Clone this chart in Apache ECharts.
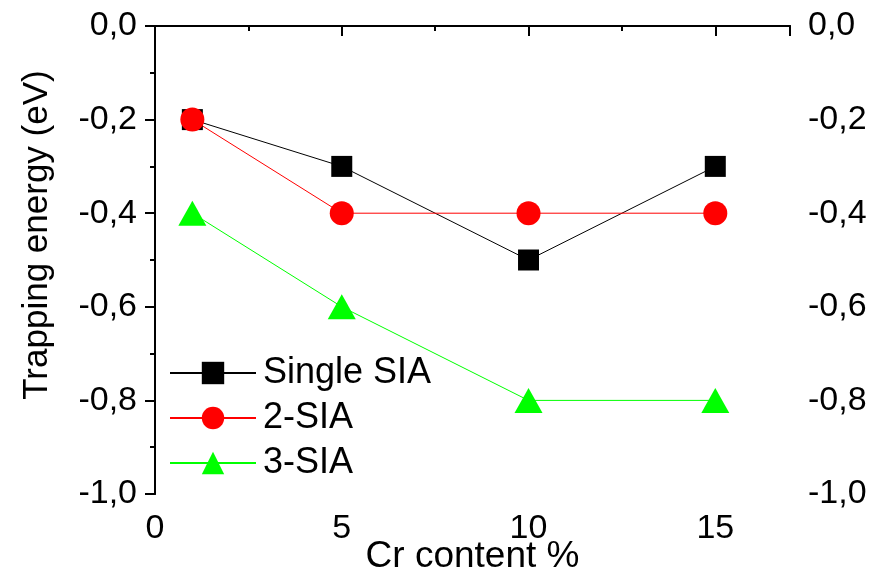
<!DOCTYPE html>
<html>
<head>
<meta charset="utf-8">
<script src="https://cdn.jsdelivr.net/npm/echarts@6/dist/echarts.min.js"></script>
<style>
  html, body { margin: 0; padding: 0; background: #fff; }
  #chart { width: 875px; height: 572px; }
</style>
</head>
<body>
<div id="chart"></div>
<script>
// Cr content (%) on the x axis
const crContent = [1, 5, 10, 15];
// Trapping energies (eV) per defect cluster
const singleSIA = [-0.2, -0.3, -0.5, -0.3];
const twoSIA = [-0.2, -0.4, -0.4, -0.4];
const threeSIA = [-0.4, -0.6, -0.8, -0.8];
const seriesNames = ['Single SIA', '2-SIA', '3-SIA'];

const FONT = '"Liberation Sans", Arial, sans-serif';

function pairs(xs, ys) {
  return xs.map((x, i) => [x, ys[i]]);
}
function commaFmt(v) {
  return v.toFixed(1).replace('.', ',');
}

const chart = echarts.init(document.getElementById('chart'), null, { renderer: 'canvas' });

const axisLine = { show: true, lineStyle: { color: '#000', width: 2 } };

chart.setOption({
  backgroundColor: '#fff',
  animation: false,
  grid: { left: 155, right: 85, top: 26, bottom: 78, containLabel: false, outerBoundsMode: 'none' },
  legend: {
    left: 169,
    top: 355,
    padding: 0,
    orient: 'vertical',
    itemWidth: 86,
    itemHeight: 28,
    itemGap: 9,
    textStyle: { fontFamily: FONT, fontSize: 36, color: '#000', padding: [0, 0, 0, 2] },
    data: seriesNames
  },
  xAxis: [
    {
      type: 'value', position: 'bottom', min: 0, max: 17, interval: 5,
      name: 'Cr content %', nameLocation: 'middle', nameGap: 44, nameMoveOverlap: false,
      nameTextStyle: { fontFamily: FONT, fontSize: 37, color: '#000' },
      axisLine: axisLine,
      axisTick: { show: true, inside: false, length: 10, lineStyle: { color: '#000', width: 2 } },
      minorTick: { show: true, splitNumber: 2, length: 5, lineStyle: { color: '#000', width: 2 } },
      axisLabel: {
        fontFamily: FONT, fontSize: 34, color: '#000', margin: 18, showMaxLabel: false,
        formatter: v => (v % 5 === 0 ? String(v) : '')
      },
      splitLine: { show: false }
    },
    {
      type: 'value', position: 'top', min: 0, max: 17, interval: 5,
      axisLine: axisLine,
      axisTick: { show: true, inside: true, length: 3, lineStyle: { color: '#000', width: 2 } },
      minorTick: { show: false },
      axisLabel: { show: false },
      splitLine: { show: false }
    }
  ],
  yAxis: [
    {
      type: 'value', position: 'left', min: -1, max: 0, interval: 0.2,
      name: 'Trapping energy (eV)', nameLocation: 'middle', nameGap: 100,
      nameTextStyle: { fontFamily: FONT, fontSize: 35, color: '#000', padding: [0, 0, 0, 50] },
      axisLine: axisLine,
      axisTick: { show: true, inside: false, length: 10, lineStyle: { color: '#000', width: 2 } },
      minorTick: { show: true, splitNumber: 2, length: 5, lineStyle: { color: '#000', width: 2 } },
      axisLabel: { fontFamily: FONT, fontSize: 34, color: '#000', margin: 18, formatter: commaFmt },
      splitLine: { show: false }
    },
    {
      type: 'value', position: 'right', min: -1, max: 0, interval: 0.2,
      axisLine: axisLine,
      axisTick: { show: true, inside: true, length: 10, lineStyle: { color: '#000', width: 2 } },
      minorTick: { show: true, splitNumber: 2, length: 5, lineStyle: { color: '#000', width: 2 } },
      axisLabel: { fontFamily: FONT, fontSize: 34, color: '#000', margin: 18, formatter: commaFmt },
      splitLine: { show: false }
    }
  ],
  series: [
    {
      name: seriesNames[0], type: 'line', data: pairs(crContent, singleSIA),
      symbol: 'rect', symbolSize: 21,
      lineStyle: { color: '#000', width: 1 },
      itemStyle: { color: '#000' }
    },
    {
      name: seriesNames[1], type: 'line', data: pairs(crContent, twoSIA),
      symbol: 'circle', symbolSize: 24,
      lineStyle: { color: '#ff0000', width: 1 },
      itemStyle: { color: '#ff0000' }
    },
    {
      name: seriesNames[2], type: 'line', data: pairs(crContent, threeSIA),
      symbol: 'triangle', symbolSize: [28, 25],
      lineStyle: { color: '#00ff00', width: 1 },
      itemStyle: { color: '#00ff00' }
    }
  ]
});
</script>
</body>
</html>
